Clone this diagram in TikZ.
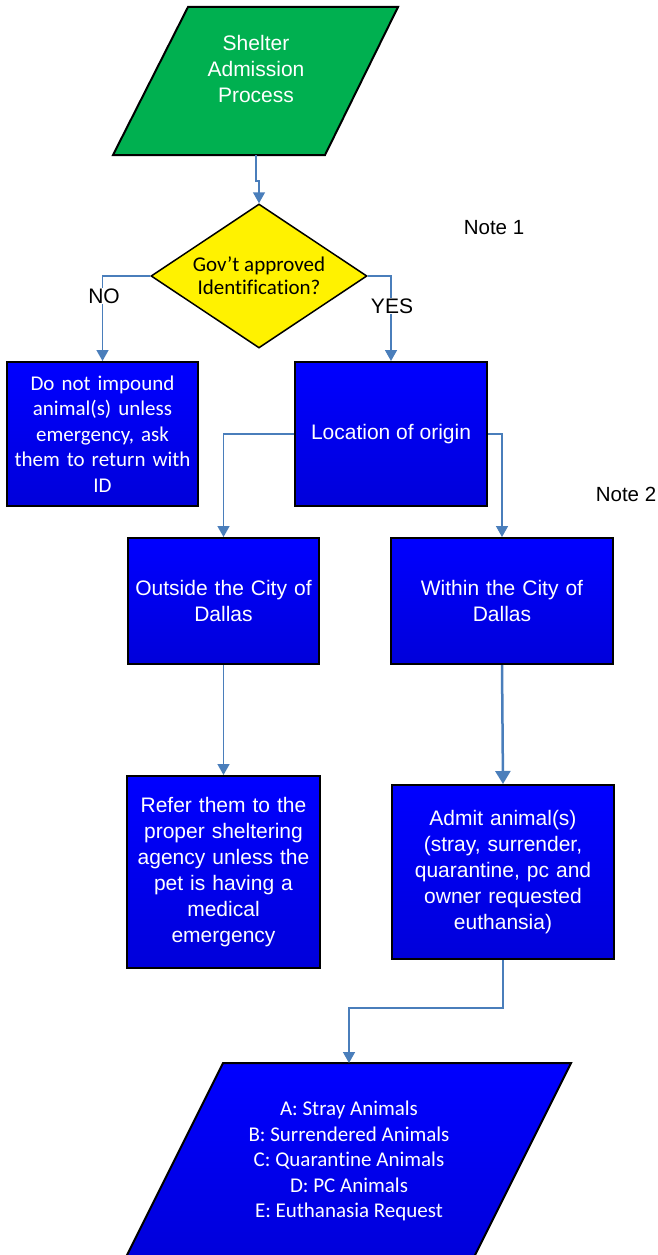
\documentclass[tikz,border=0pt]{standalone}
\usepackage{fontspec}
\setmainfont{Liberation Sans}
\newfontfamily\calib[Ligatures=NoCommon,Contextuals=NoAlternate]{Carlito}
\usetikzlibrary{arrows.meta,shapes.geometric,calc}
\definecolor{conn}{RGB}{74,126,187}
\definecolor{gfill}{RGB}{0,176,80}
\definecolor{bbot}{RGB}{0,0,218}
\tikzset{
  bluebox/.style={draw=black, line width=2pt, top color=blue, bottom color=bbot, text=white, align=center, inner sep=2pt},
  conline/.style={draw=conn, line width=1.5pt, -{Triangle[width=12pt,length=11pt]}},
  thickcon/.style={draw=conn, line width=2.5pt, -{Triangle[width=15pt,length=13pt]}},
  arialtxt/.style={font=\fontsize{21}{26}\selectfont},
  calibtxt/.style={font=\calib\fontsize{21}{25.5}\selectfont},
  lbl/.style={fill=white, inner sep=1pt, font=\fontsize{21}{22}\selectfont},
  notetxt/.style={font=\fontsize{20.5}{22}\selectfont},
}
\begin{document}
\begin{tikzpicture}[x=1pt,y=-1pt]
\clip (0,0) rectangle (658,1255);
\useasboundingbox (0,0) rectangle (658,1255);
% start parallelogram
\draw[fill=gfill, draw=black, line width=2pt] (188,7) -- (398,7) -- (325,155) -- (113,155) -- cycle;
\node[text=white, align=center, arialtxt] (start) at (256,69) {Shelter\\Admission\\Process};
\coordinate (startB) at (256,155);
% decision
\node[diamond, aspect=1.5, draw=black, line width=1.5pt, fill=yellow, minimum width=216pt, minimum height=144pt, inner sep=0pt, align=center, font=\calib\fontsize{21}{23}\selectfont] (dec) at (259,276) {Gov’t approved\\Identification?};
% boxes
\node[bluebox, calibtxt, minimum width=191pt, minimum height=144pt, text width=185pt] (noid) at (102.5,434) {Do not impound\\animal(s) unless\\emergency, ask\\them to return with\\ID};
\node[bluebox, arialtxt, minimum width=192pt, minimum height=144pt] (loc) at (391,434) {Location of origin};
\node[bluebox, arialtxt, minimum width=191pt, minimum height=126pt, text width=185pt] (out) at (223.5,601) {Outside the City of\\Dallas};
\node[bluebox, arialtxt, minimum width=222pt, minimum height=126pt, text width=215pt] (within) at (502,601) {Within the City of\\Dallas};
\node[bluebox, arialtxt, minimum width=193pt, minimum height=192pt, text width=187pt] (refer) at (223.5,872) {Refer them to the\\proper sheltering\\agency unless the\\pet is having a\\medical\\emergency};
\node[bluebox, arialtxt, minimum width=222pt, minimum height=174pt, text width=215pt] (admit) at (503,872) {Admit animal(s)\\(stray, surrender,\\quarantine, pc and\\owner requested\\euthansia)};
% bottom parallelogram
\draw[draw=black, line width=2pt, top color=blue, bottom color=bbot] (223,1063) -- (571,1063) -- (472,1261) -- (124,1261) -- cycle;
\node[text=white, align=center, calibtxt] (list) at (349,1161) {A: Stray Animals\\B: Surrendered Animals\\C: Quarantine Animals\\D: PC Animals\\E: Euthanasia Request};
\coordinate (listT) at (349,1063);
% connectors
\draw[conline] (startB) -- ++(0,26) -| (dec.north);
\draw[conline] (dec.west) -| (noid.north);
\draw[conline] (dec.east) -| (loc.north);
\draw[conline] (loc.west) -| (out.north);
\draw[conline] (loc.east) -| (within.north);
\draw[conline] (out.south) -- (refer.north);
\draw[thickcon] (within.south) -- (admit.north);
\draw[conline] (admit.south) -- ++(0,48) -| (listT);
% labels
\node[lbl] (no) at (104,296) {NO};
\node[lbl] (yes) at (392,306) {YES};
\node[notetxt] (note1) at (494,228) {Note 1};
\node[notetxt] (note2) at (626,494) {Note 2};
\end{tikzpicture}
\end{document}
